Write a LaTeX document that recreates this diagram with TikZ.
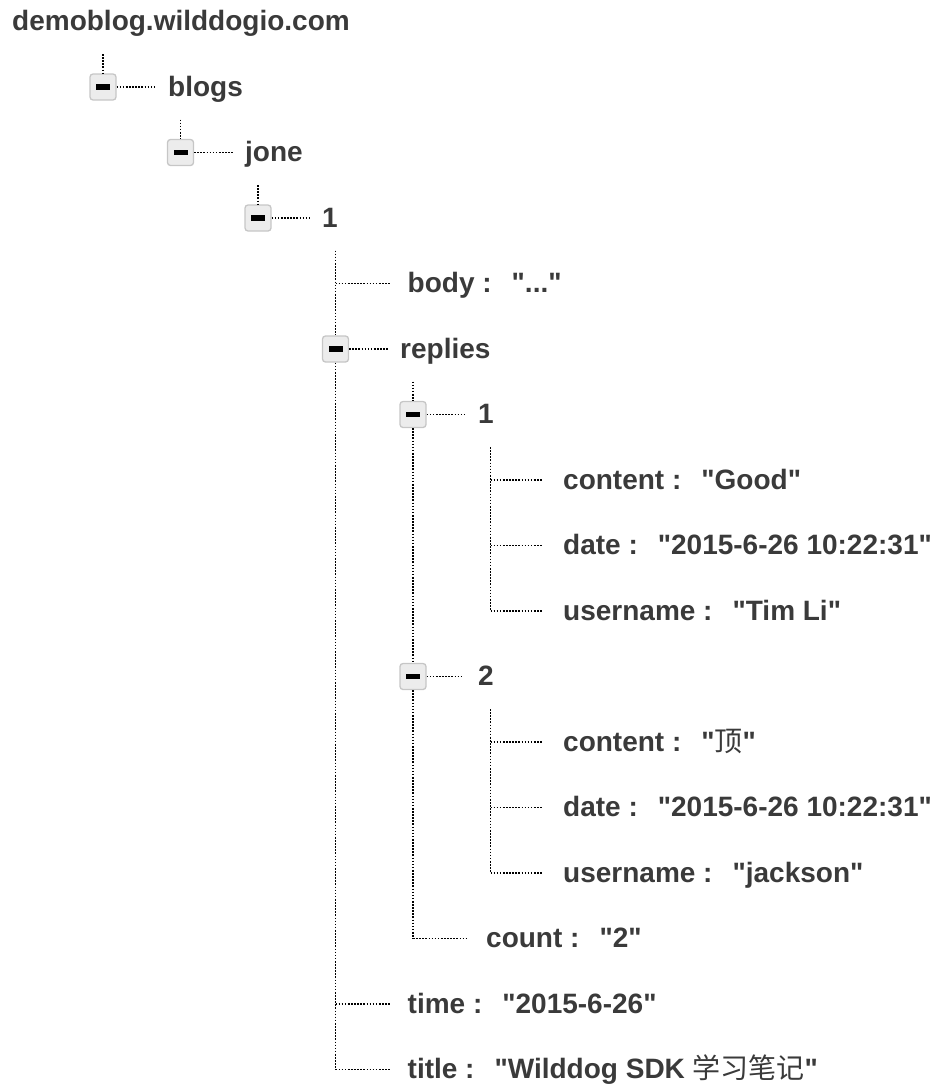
\documentclass[tikz,border=0pt]{standalone}
\usepackage{fontspec}
\setmainfont{Liberation Sans}[Ligatures=TeXOff]
\newfontfamily\cjk{Noto Sans CJK SC}
\definecolor{txt}{HTML}{3A3A3A}
\definecolor{boxfill}{HTML}{ECECEC}
\definecolor{boxline}{HTML}{C6C6C6}
\newcommand\kv[2]{#1 :\hspace{20pt}#2}
\tikzset{
  dot/.style={draw=black, line width=1.6pt, dash pattern=on 1.6pt off 1.5pt},
  tbox/.style={draw=boxline, fill=boxfill, line width=1.3pt, rounded corners=3pt,
    minimum size=26pt, inner sep=0pt,
    path picture={\fill[black, sharp corners] ([shift={(-7pt,-2.6pt)}]path picture bounding box.center)
      rectangle ([shift={(7pt,2.6pt)}]path picture bounding box.center);}},
  lbl/.style={anchor=base west, inner sep=0pt, text=txt,
    font=\fontsize{28}{32}\selectfont\bfseries},
}
\begin{document}
\begin{tikzpicture}[x=1pt,y=-1pt]
\useasboundingbox (0,0) rectangle (946,1087);
% boxes
\node[tbox] (blogs) at (103,87) {};
\node[tbox] (jone) at (180.5,152.5) {};
\node[tbox] (one) at (258,218) {};
\node[tbox] (replies) at (335.5,349) {};
\node[tbox] (r1) at (413,414.5) {};
\node[tbox] (r2) at (413,676.5) {};
% labels
\node[lbl] (root) at (12,30.5) {demoblog.wilddogio.com};
\node[lbl] (blogs-t) at (168,96) {blogs};
\node[lbl] (jone-t) at (245,161.5) {jone};
\node[lbl] (one-t) at (322,227) {1};
\node[lbl] (body-t) at (407.5,292.5) {\kv{body}{"..."}};
\node[lbl] (replies-t) at (400,358) {replies};
\node[lbl] (r1-t) at (478,423.5) {1};
\node[lbl] (c1-t) at (563,489) {\kv{content}{"Good"}};
\node[lbl] (d1-t) at (563,554.5) {\kv{date}{"2015-6-26 10:22:31"}};
\node[lbl] (u1-t) at (563,620) {\kv{username}{"Tim Li"}};
\node[lbl] (r2-t) at (478,685.5) {2};
\node[lbl] (c2-t) at (563,751) {\kv{content}{"{\cjk\mdseries 顶}"}};
\node[lbl] (d2-t) at (563,816.5) {\kv{date}{"2015-6-26 10:22:31"}};
\node[lbl] (u2-t) at (563,882) {\kv{username}{"jackson"}};
\node[lbl] (count-t) at (486,947.5) {\kv{count}{"2"}};
\node[lbl] (time-t) at (407.5,1013) {\kv{time}{"2015-6-26"}};
\node[lbl] (title-t) at (407.5,1078.5) {\kv{title}{"Wilddog SDK {\cjk\mdseries 学习笔记}"}};
% coordinates
\coordinate (top1) at (103,54);
\coordinate (top2) at (180.5,119.5);
\coordinate (top3) at (258,185);
\coordinate (top4) at (335.5,250.5);
\coordinate (top5) at (413,381.5);
\coordinate (top6a) at (490.5,447);
\coordinate (top6b) at (490.5,709);
\coordinate (body-j) at (335.5,283.5);
\coordinate (time-j) at (335.5,1004);
\coordinate (title-j) at (335.5,1069.5);
\coordinate (count-j) at (413,938.5);
\coordinate (c1-j) at (490.5,480);
\coordinate (d1-j) at (490.5,545.5);
\coordinate (u1-j) at (490.5,611);
\coordinate (c2-j) at (490.5,742);
\coordinate (d2-j) at (490.5,807.5);
\coordinate (u2-j) at (490.5,873);
% vertical connectors
\draw[dot] (top1) -- (blogs);
\draw[dot] (top2) -- (jone);
\draw[dot] (top3) -- (one);
\draw[dot] (top4) -- (replies);
\draw[dot] (replies) -- (title-j);
\draw[dot] (top5) -- (r1);
\draw[dot] (r1) -- (r2);
\draw[dot] (r2) -- (count-j);
\draw[dot] (top6a) -- (u1-j);
\draw[dot] (top6b) -- (u2-j);
% horizontal connectors from boxes
\draw[dot] (blogs.east) -- ++(40,0);
\draw[dot] (jone.east) -- ++(40,0);
\draw[dot] (one.east) -- ++(40,0);
\draw[dot] (replies.east) -- ++(40,0);
\draw[dot] (r1.east) -- ++(40,0);
\draw[dot] (r2.east) -- ++(36,0);
% horizontal connectors for leaves
\draw[dot] (body-j) -- ++(55,0);
\draw[dot] (time-j) -- ++(55,0);
\draw[dot] (title-j) -- ++(55,0);
\draw[dot] (count-j) -- ++(55,0);
\draw[dot] (c1-j) -- ++(52,0);
\draw[dot] (d1-j) -- ++(52,0);
\draw[dot] (u1-j) -- ++(52,0);
\draw[dot] (c2-j) -- ++(52,0);
\draw[dot] (d2-j) -- ++(52,0);
\draw[dot] (u2-j) -- ++(52,0);
\end{tikzpicture}
\end{document}
